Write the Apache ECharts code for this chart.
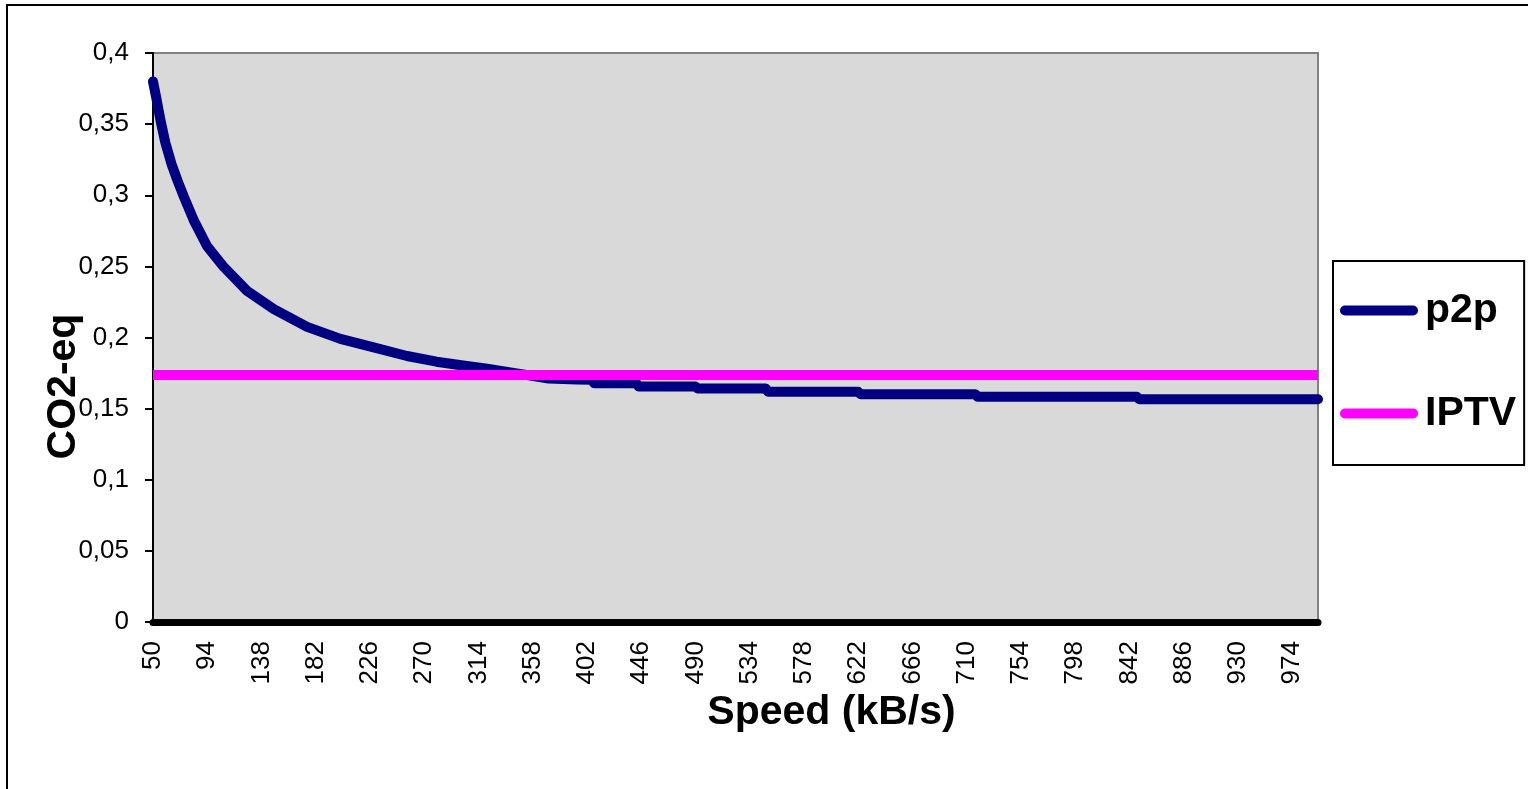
<!DOCTYPE html>
<html>
<head>
<meta charset="utf-8">
<script src="https://cdn.jsdelivr.net/npm/echarts@6/dist/echarts.min.js"></script>
<style>
html,body{margin:0;padding:0;background:#fff;}
#chart{width:1528px;height:789px;}
</style>
</head>
<body>
<div id="chart"></div>
<script>
// Speed categories (kB/s)
var speedStart = 50;
var speedEnd = 995;
var categories = [];
for (var s = speedStart; s <= speedEnd; s++) categories.push(String(s));

// p2p CO2-eq readings: [speed, value]
var p2pSpeeds = [50, 53, 56, 60, 65, 70, 75, 83, 94, 107, 126, 148, 175, 202, 229, 256, 280, 300, 321, 345, 371, 394, 406, 408, 442, 444, 490, 492, 547, 549, 622, 624, 717, 719, 848, 850, 995];
var p2pValues = [0.380, 0.367, 0.353, 0.337, 0.322, 0.310, 0.299, 0.2825, 0.264, 0.250, 0.233, 0.220, 0.2075, 0.199, 0.193, 0.187, 0.183, 0.1805, 0.178, 0.1748, 0.1712, 0.1705, 0.1703, 0.1678, 0.1678, 0.1655, 0.1655, 0.1641, 0.1641, 0.1618, 0.1618, 0.1601, 0.1601, 0.1583, 0.1583, 0.1566, 0.1566];

// IPTV CO2-eq (constant)
var iptvSpeeds = [50, 995];
var iptvValues = [0.1737, 0.1737];

var yTicks = {min: 0, max: 0.4, interval: 0.05};

var font = 'Liberation Sans, Arial, sans-serif';

function pairs(xs, ys) {
  var out = [];
  for (var i = 0; i < xs.length; i++) out.push([String(xs[i]), ys[i]]);
  return out;
}

var chart = echarts.init(document.getElementById('chart'));
chart.setOption({
  animation: false,
  backgroundColor: '#ffffff',
  graphic: [{
    type: 'rect',
    shape: {x: 7, y: 5, width: 1540, height: 800},
    style: {fill: 'none', stroke: '#000', lineWidth: 2},
    silent: true
  }],
  grid: {
    left: 153, top: 53, right: 210, bottom: 167,
    show: true, backgroundColor: '#D9D9D9', borderColor: '#808080', borderWidth: 2
  },
  legend: {
    data: ['p2p', 'IPTV'],
    orient: 'vertical',
    left: 1333, top: 261,
    padding: [29, 8, 31, 7],
    itemGap: 62,
    itemWidth: 78, itemHeight: 10,
    icon: 'path://M5,0 L73,0 A5,5 0 0 1 73,10 L5,10 A5,5 0 0 1 5,0 Z',
    backgroundColor: '#fff',
    borderColor: '#000', borderWidth: 2,
    textStyle: {fontFamily: font, fontWeight: 'bold', fontSize: 41, color: '#000', padding: [0, 0, 0, 2]}
  },
  xAxis: {
    type: 'category',
    data: categories,
    boundaryGap: false,
    name: 'Speed (kB/s)',
    nameLocation: 'middle',
    nameGap: 70,
    nameMoveOverlap: false,
    nameTextStyle: {fontFamily: font, fontWeight: 'bold', fontSize: 41, color: '#000', padding: [0, 0, 0, 192]},
    axisLine: {show: true, onZero: false, lineStyle: {color: '#000', width: 7}},
    axisTick: {show: false},
    axisLabel: {
      interval: 43, rotate: 90, margin: 19,
      fontFamily: font, fontSize: 26, color: '#000'
    },
    splitLine: {show: false}
  },
  yAxis: {
    type: 'value',
    min: yTicks.min, max: yTicks.max, interval: yTicks.interval,
    name: 'CO2-eq',
    nameLocation: 'middle',
    nameGap: 69,
    nameMoveOverlap: false,
    nameTextStyle: {fontFamily: font, fontWeight: 'bold', fontSize: 41, color: '#000', padding: [0, 98, 0, 0]},
    axisLine: {show: true, lineStyle: {color: '#000', width: 2}},
    axisTick: {show: true, inside: false, length: 8, lineStyle: {color: '#000', width: 2}},
    axisLabel: {
      margin: 24, fontFamily: font, fontSize: 26, color: '#000',
      formatter: function (v) { return String(+v.toFixed(2)).replace('.', ','); }
    },
    splitLine: {show: false}
  },
  series: [{
    name: 'p2p',
    type: 'line',
    data: pairs(p2pSpeeds, p2pValues),
    showSymbol: false,
    symbol: 'none',
    lineStyle: {color: '#000080', width: 10, cap: 'round', join: 'round'},
    itemStyle: {color: '#000080'},
    z: 2
  }, {
    name: 'IPTV',
    type: 'line',
    data: pairs(iptvSpeeds, iptvValues),
    showSymbol: false,
    symbol: 'none',
    lineStyle: {color: '#FF00FF', width: 10},
    itemStyle: {color: '#FF00FF'},
    z: 3
  }]
});
</script>
</body>
</html>
